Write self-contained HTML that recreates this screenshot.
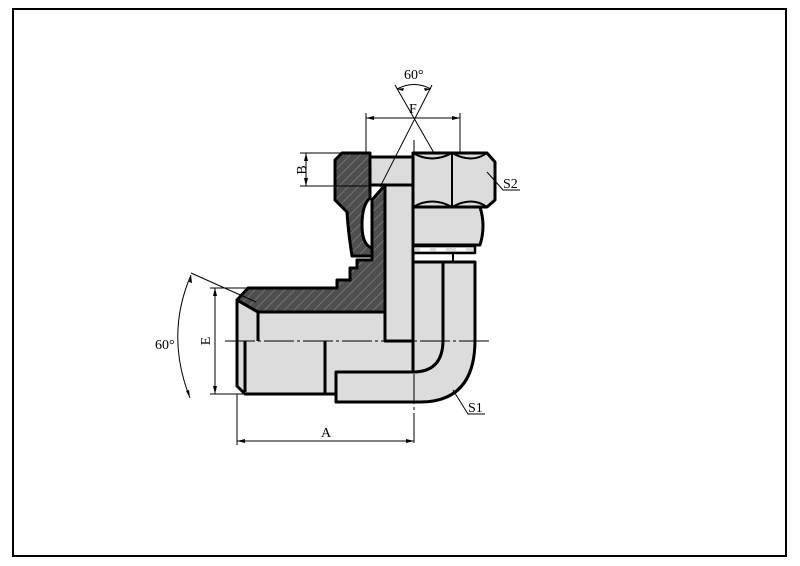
<!DOCTYPE html>
<html><head><style>
html,body{margin:0;padding:0;background:#fff}
svg{display:block}
text{font-family:"Liberation Serif",serif;fill:#000}
</style></head><body>
<svg width="800" height="566" viewBox="0 0 800 566" xmlns="http://www.w3.org/2000/svg">
<defs>
<pattern id="h" width="7" height="7" patternUnits="userSpaceOnUse" patternTransform="rotate(45)">
<rect width="7" height="7" fill="#4e4e4e"/><line x1="0" y1="0" x2="0" y2="7" stroke="#8a8a8a" stroke-width="1.2"/>
</pattern>
</defs>
<rect x="13" y="9" width="773" height="547" fill="none" stroke="#000" stroke-width="2"/>

<g stroke="#000" stroke-width="3" stroke-linejoin="round" fill="#dcdcdc">
<path d="M413 262 L475 262 L475 340 Q475 402 420 402 L336 402 L336 372 L413 372 Z"/>
<path d="M443 262 L443 340 Q443 372 413 372" fill="none"/>
<path d="M237 300 L258 312 L385 312 L413 341 L413 372 L336 372 L336 402 L336 394 L245 394 L237 386 Z"/>
<line x1="245" y1="341" x2="245" y2="392"/>
<line x1="325" y1="341" x2="325" y2="394"/>
<line x1="258" y1="312" x2="258" y2="341"/>
<rect x="385" y="185" width="28" height="156"/>
<rect x="370" y="157" width="43" height="28"/>
<path d="M413 153 L487 153 L495 162 L495 200 L487 207 L413 207 Z"/>
<path d="M413 153 Q432 164 452 153 Q472 164 487 153 M452 153 L452 207 M413 207 Q432 196 452 207 Q472 196 487 207" fill="none" stroke-width="2"/>
<path d="M413 207 L480 207 Q486 226 480 245 L413 245 Z"/>
<rect x="413" y="246" width="62" height="7" stroke-width="2.5"/>
<line x1="453" y1="253" x2="453" y2="262" stroke-width="2"/>
</g>
<g fill="#fff">
<rect x="420" y="248" width="10" height="3"/><rect x="436" y="248" width="10" height="3"/><rect x="456" y="248" width="10" height="3"/>
</g>

<g stroke="#000" stroke-width="3" stroke-linejoin="round" fill="url(#h)">
<path d="M237 300 L248 288 L337 288 L337 280 L350 280 L350 268 L357 268 L357 260 L372 260 L372 200 L385 185 L385 312 L258 312 Z"/>
<path d="M342 153 L370 153 L370 198 Q362 205 362 225 Q362 245 372 248 L372 256 L352 256 Q348 230 347 212 L335 200 L335 160 Z"/>
</g>

<g stroke="#000" stroke-width="1" fill="none">
<line x1="225" y1="341" x2="492" y2="341" stroke-dasharray="30 3 3 3"/>
<line x1="414" y1="140" x2="414" y2="445" stroke-dasharray="30 3 3 3"/>
<line x1="395" y1="85" x2="434" y2="153"/>
<line x1="432" y1="85" x2="380" y2="187"/>
<path d="M397 89 Q414 80 431 89"/>
<line x1="366" y1="113" x2="366" y2="153"/>
<line x1="460" y1="113" x2="460" y2="153"/>
<line x1="366" y1="118" x2="460" y2="118"/>
<line x1="300" y1="153" x2="342" y2="153"/>
<line x1="300" y1="186" x2="370" y2="186"/>
<line x1="306" y1="153" x2="306" y2="186"/>
<line x1="210" y1="288" x2="248" y2="288"/>
<line x1="210" y1="394" x2="245" y2="394"/>
<line x1="215" y1="288" x2="215" y2="394"/>
<line x1="237" y1="394" x2="237" y2="445"/>
<line x1="237" y1="441" x2="414" y2="441"/>
<line x1="191" y1="273" x2="256" y2="302"/>
<path d="M191 275 Q165 335 190 398"/>
<path d="M487 172 L503 190 L520 190"/>
<path d="M453 390 L468 414 L485 414"/>
</g>
<g fill="#000">
<path d="M366 118 l8 -2 v4 z M460 118 l-8 -2 v4 z"/>
<path d="M306 153 l-2 8 h4 z M306 186 l-2 -8 h4 z"/>
<path d="M215 288 l-2 8 h4 z M215 394 l-2 -8 h4 z"/>
<path d="M237 441 l8 -2 v4 z M414 441 l-8 -2 v4 z"/>
<path d="M397 89 l7 -1 l-1 3 z M431 89 l-7 -1 l1 3 z"/>
<path d="M191 275 l1 8 l-3 -1 z M190 398 l-4 -7 l3 -1 z"/>
</g>
<g font-size="14">
<text x="404" y="79">60°</text>
<text x="409" y="113">F</text>
<text x="301" y="175" transform="rotate(-90 301 170)" text-anchor="middle">B</text>
<text x="210" y="341" transform="rotate(-90 210 341)" text-anchor="middle">E</text>
<text x="155" y="349">60°</text>
<text x="321" y="437">A</text>
<text x="503" y="188">S2</text>
<text x="468" y="412">S1</text>
</g>
</svg>
</body></html>
